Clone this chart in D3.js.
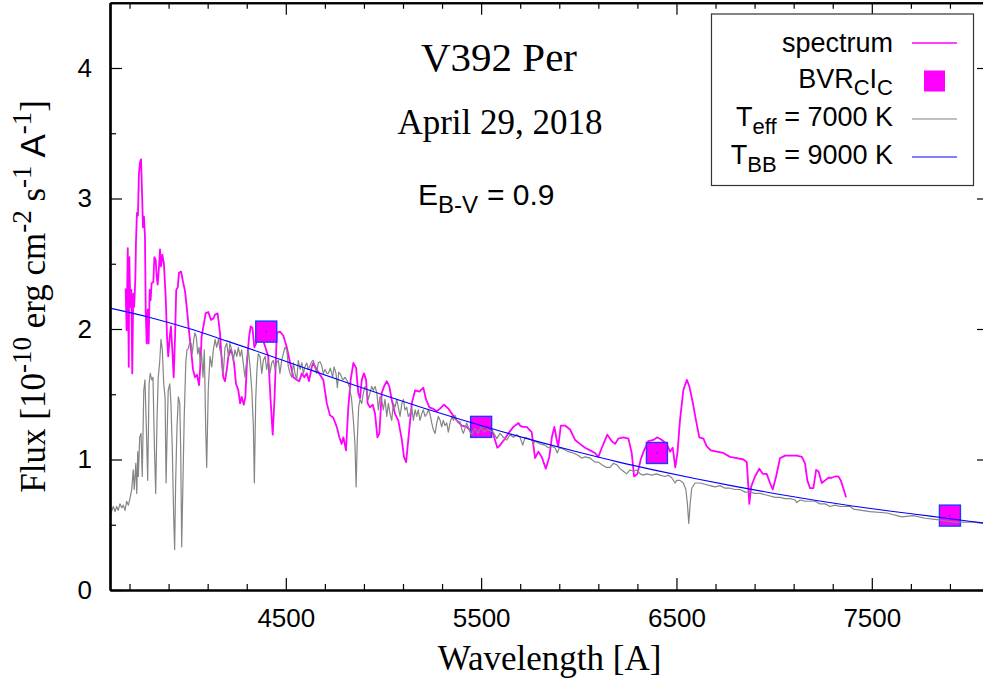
<!DOCTYPE html>
<html>
<head>
<meta charset="utf-8">
<script src="https://cdn.jsdelivr.net/npm/d3@7"></script>
<style>
  body { margin: 0; background: #fff; }
  svg { display: block; }
  .serif { font-family: 'Liberation Serif', 'Times New Roman', serif; }
  .sans { font-family: 'Liberation Sans', Arial, sans-serif; }
</style>
</head>
<body>
<svg id="chart" width="983" height="684"></svg>
<script>
// V392 Per spectrum, April 29, 2018

// observed spectrum [wavelength A, flux 1e-10]
const spectrum = [
  [3680,2.31],[3685,1.99],[3691,2.62],[3696,1.71],[3699,2.55],[3704,2.17],[3709,2.30],[3714,1.66],
  [3719,2.27],[3724,2.17],[3730,2.40],[3733,2.67],[3738,2.89],[3743,2.87],[3748,3.19],[3754,3.28],
  [3759,3.30],[3764,3.04],[3769,2.78],[3774,2.86],[3779,2.71],[3783,2.12],[3788,1.89],[3793,2.15],
  [3798,1.89],[3803,2.30],[3808,2.22],[3813,2.35],[3822,2.36],[3827,2.55],[3834,2.53],[3839,2.40],
  [3844,2.34],[3851,2.48],[3856,2.61],[3861,2.48],[3868,2.57],[3876,2.50],[3885,2.25],[3892,1.94],
  [3898,1.79],[3906,1.94],[3912,2.02],[3919,1.84],[3926,1.63],[3933,1.94],[3939,2.30],[3947,2.32],
  [3953,2.43],[3964,2.44],[3974,2.36],[3984,2.29],[3994,2.15],[4004,1.99],[4015,1.84],[4025,1.69],
  [4035,1.63],[4045,1.65],[4056,1.57],[4062,1.71],[4069,1.94],[4078,2.02],[4090,2.12],[4103,2.13],
  [4117,2.07],[4129,2.08],[4138,2.11],[4151,2.12],[4163,1.97],[4172,1.76],[4180,1.63],[4189,1.60],
  [4198,1.69],[4206,1.79],[4218,1.84],[4226,1.81],[4235,1.74],[4245,1.58],[4257,1.53],[4266,1.43],
  [4274,1.48],[4285,1.42],[4293,1.48],[4301,1.74],[4312,1.94],[4320,2.02],[4329,2.01],[4339,1.86],
  [4348,1.89],[4358,1.98],[4383,1.92],[4410,1.79],[4422,1.46],[4433,1.19],[4442,1.46],[4454,1.97],
  [4470,1.98],[4487,1.95],[4505,1.86],[4522,1.74],[4539,1.63],[4556,1.61],[4569,1.60],[4582,1.66],
  [4595,1.63],[4607,1.66],[4619,1.60],[4633,1.71],[4641,1.74],[4658,1.69],[4675,1.65],[4692,1.61],
  [4710,1.43],[4726,1.34],[4743,1.32],[4761,1.25],[4774,1.17],[4786,1.12],[4795,1.17],[4808,1.07],
  [4820,1.40],[4832,1.61],[4846,1.74],[4860,1.70],[4871,1.51],[4880,1.47],[4889,1.61],[4900,1.66],
  [4911,1.61],[4919,1.43],[4931,1.40],[4945,1.42],[4957,1.35],[4969,1.17],[4979,1.20],[4991,1.51],
  [5003,1.56],[5017,1.60],[5030,1.56],[5042,1.46],[5059,1.35],[5076,1.30],[5094,1.15],[5105,1.02],
  [5116,0.98],[5127,1.15],[5145,1.43],[5162,1.53],[5184,1.52],[5204,1.55],[5218,1.46],[5235,1.40],
  [5252,1.39],[5273,1.37],[5290,1.39],[5310,1.42],[5332,1.39],[5355,1.34],[5375,1.30],[5401,1.26],
  [5426,1.25],[5452,1.21],[5474,1.17],[5503,1.21],[5529,1.25],[5554,1.23],[5571,1.15],[5583,1.09],
  [5597,1.11],[5617,1.15],[5639,1.20],[5665,1.25],[5691,1.28],[5699,1.26],[5713,1.25],[5733,1.25],
  [5759,1.21],[5776,1.01],[5793,1.06],[5810,1.02],[5831,0.93],[5849,1.02],[5862,1.17],[5875,1.25],
  [5887,1.15],[5895,1.10],[5908,1.26],[5930,1.26],[5955,1.23],[5981,1.15],[6006,1.12],[6032,1.09],
  [6058,1.07],[6083,1.05],[6100,1.02],[6118,1.09],[6146,1.19],[6169,1.14],[6186,1.12],[6202,1.16],
  [6228,1.17],[6254,1.16],[6271,1.05],[6283,0.87],[6300,0.89],[6317,1.00],[6334,1.07],[6356,1.14],
  [6382,1.15],[6402,1.17],[6425,1.15],[6450,1.12],[6467,1.06],[6481,1.09],[6494,0.94],[6505,1.05],
  [6518,1.30],[6535,1.53],[6553,1.61],[6566,1.56],[6583,1.44],[6600,1.30],[6617,1.17],[6638,1.16],
  [6655,1.10],[6676,1.07],[6706,1.06],[6740,1.05],[6774,1.02],[6809,1.01],[6843,1.00],[6860,0.98],
  [6868,0.79],[6873,0.66],[6882,0.79],[6902,0.87],[6924,0.93],[6942,0.89],[6962,0.89],[6979,0.82],
  [6993,0.77],[7010,0.87],[7030,1.01],[7056,1.03],[7090,1.03],[7116,1.03],[7142,1.02],[7158,0.97],
  [7170,0.84],[7184,0.78],[7201,0.78],[7215,0.92],[7227,0.91],[7244,0.82],[7261,0.84],[7278,0.86],
  [7295,0.86],[7312,0.87],[7329,0.87],[7341,0.84],[7354,0.78],[7368,0.71]
];

// B V Rc Ic photometry
const photWave = [4400, 5500, 6400, 7900];
const photFlux = [1.98, 1.25, 1.05, 0.57];

// model atmosphere Teff = 7000 K
const model = [
  [3600,0.59],[3605,0.59],[3617,0.64],[3626,0.60],[3634,0.64],[3642,0.61],[3651,0.66],[3660,0.63],
  [3668,0.65],[3677,0.61],[3685,0.68],[3694,0.65],[3702,0.70],[3711,0.77],[3719,0.92],[3724,0.77],
  [3732,0.97],[3737,0.74],[3742,1.06],[3745,0.87],[3752,1.17],[3759,1.20],[3765,0.87],[3773,1.53],
  [3779,1.61],[3786,1.25],[3793,0.84],[3800,1.58],[3806,1.66],[3814,1.61],[3820,1.63],[3827,1.12],
  [3834,0.74],[3841,1.33],[3847,1.63],[3854,1.74],[3861,1.92],[3868,1.84],[3875,1.58],[3882,1.48],
  [3887,0.82],[3892,1.17],[3898,1.53],[3906,1.58],[3912,1.43],[3919,1.07],[3926,0.56],[3931,0.31],
  [3936,0.82],[3943,1.25],[3950,1.48],[3957,1.43],[3962,1.07],[3967,0.33],[3974,0.87],[3980,1.33],
  [3988,1.74],[3994,1.84],[4001,1.85],[4008,1.90],[4015,1.89],[4021,1.81],[4029,1.92],[4035,1.97],
  [4042,1.94],[4049,1.81],[4056,1.86],[4062,1.74],[4069,1.81],[4076,1.63],[4083,1.84],[4090,1.23],
  [4095,0.94],[4103,1.53],[4112,1.79],[4121,1.71],[4129,1.84],[4138,1.92],[4146,1.86],[4155,1.92],
  [4163,1.84],[4172,1.79],[4180,1.66],[4189,1.86],[4198,1.89],[4206,1.79],[4214,1.89],[4223,1.84],
  [4231,1.76],[4240,1.84],[4249,1.79],[4257,1.86],[4266,1.79],[4274,1.84],[4282,1.74],[4291,1.63],
  [4300,1.76],[4308,1.84],[4317,1.71],[4326,1.53],[4334,1.25],[4339,0.82],[4346,1.46],[4353,1.71],
  [4359,1.81],[4368,1.79],[4377,1.66],[4385,1.76],[4394,1.79],[4402,1.69],[4410,1.76],[4419,1.66],
  [4428,1.74],[4436,1.76],[4445,1.69],[4453,1.74],[4462,1.76],[4470,1.66],[4479,1.76],[4487,1.81],
  [4496,1.86],[4505,1.84],[4513,1.71],[4522,1.66],[4530,1.63],[4539,1.74],[4547,1.66],[4556,1.61],
  [4564,1.76],[4573,1.69],[4582,1.74],[4590,1.66],[4598,1.71],[4607,1.74],[4615,1.69],[4624,1.72],
  [4633,1.75],[4641,1.76],[4650,1.70],[4658,1.66],[4666,1.74],[4675,1.75],[4684,1.72],[4692,1.66],
  [4701,1.69],[4710,1.66],[4718,1.66],[4728,1.70],[4740,1.63],[4747,1.71],[4757,1.66],[4764,1.55],
  [4771,1.67],[4781,1.65],[4791,1.61],[4803,1.63],[4815,1.60],[4825,1.56],[4837,1.46],[4846,1.30],
  [4854,1.12],[4860,0.79],[4866,1.15],[4873,1.40],[4880,1.46],[4889,1.43],[4897,1.51],[4906,1.56],
  [4914,1.53],[4922,1.46],[4931,1.51],[4940,1.56],[4948,1.53],[4957,1.56],[4966,1.51],[4974,1.38],
  [4982,1.48],[4991,1.46],[4999,1.38],[5008,1.46],[5017,1.33],[5025,1.43],[5034,1.35],[5042,1.30],
  [5051,1.43],[5059,1.40],[5068,1.46],[5076,1.40],[5085,1.33],[5094,1.43],[5102,1.46],[5110,1.38],
  [5119,1.40],[5127,1.33],[5136,1.35],[5145,1.40],[5153,1.30],[5162,1.38],[5170,1.33],[5178,1.38],
  [5187,1.30],[5196,1.35],[5204,1.38],[5213,1.33],[5222,1.35],[5230,1.38],[5238,1.35],[5247,1.28],
  [5255,1.23],[5264,1.20],[5273,1.28],[5281,1.33],[5290,1.30],[5298,1.25],[5306,1.30],[5315,1.26],
  [5324,1.28],[5332,1.21],[5341,1.28],[5350,1.33],[5358,1.30],[5366,1.34],[5375,1.30],[5383,1.28],
  [5392,1.29],[5401,1.23],[5409,1.20],[5418,1.24],[5426,1.28],[5434,1.25],[5443,1.21],[5452,1.19],
  [5469,1.24],[5484,1.20],[5499,1.25],[5515,1.21],[5530,1.23],[5546,1.22],[5562,1.21],[5580,1.16],
  [5597,1.20],[5614,1.17],[5631,1.15],[5648,1.19],[5665,1.17],[5682,1.19],[5699,1.17],[5713,1.11],
  [5725,1.17],[5742,1.16],[5759,1.15],[5767,1.12],[5776,1.14],[5802,1.12],[5827,1.11],[5844,1.09],
  [5861,1.10],[5878,1.09],[5890,1.05],[5900,1.09],[5921,1.08],[5947,1.06],[5972,1.05],[5998,1.03],
  [6015,1.01],[6032,1.02],[6058,1.01],[6083,0.98],[6100,0.98],[6118,0.96],[6140,0.94],[6160,0.94],
  [6177,0.97],[6194,0.96],[6211,0.93],[6228,0.91],[6245,0.89],[6262,0.92],[6279,0.91],[6297,0.92],
  [6314,0.89],[6331,0.88],[6348,0.89],[6373,0.88],[6399,0.89],[6416,0.88],[6442,0.87],[6459,0.88],
  [6476,0.86],[6493,0.82],[6501,0.84],[6518,0.84],[6535,0.82],[6548,0.77],[6556,0.66],[6563,0.51],
  [6570,0.66],[6578,0.78],[6595,0.82],[6621,0.82],[6646,0.81],[6672,0.80],[6698,0.79],[6723,0.80],
  [6749,0.78],[6774,0.78],[6800,0.77],[6826,0.77],[6851,0.75],[6877,0.75],[6902,0.74],[6928,0.74],
  [6954,0.73],[6979,0.72],[7005,0.71],[7030,0.71],[7056,0.70],[7082,0.70],[7107,0.69],[7116,0.67],
  [7133,0.69],[7158,0.68],[7184,0.68],[7210,0.68],[7235,0.66],[7261,0.66],[7286,0.64],[7312,0.65],
  [7338,0.64],[7363,0.64],[7389,0.64],[7406,0.62],[7491,0.60],[7577,0.59],[7653,0.56],[7713,0.57],
  [7773,0.55],[7833,0.54],[7918,0.52],[7969,0.52],[8020,0.52],[8070,0.51],[8100,0.50]
];

// black body T = 9000 K
const bbWave = [3600,3800,4000,4200,4400,4600,4800,5000,5200,5400,5600,5800,
                6000,6200,6400,6600,6800,7000,7200,7400,7600,7800,8000,8100];
const bbFlux = [2.16,2.09,2.005,1.907,1.805,1.70,1.596,1.495,1.397,1.304,1.216,1.133,
                1.055,0.982,0.915,0.852,0.794,0.740,0.690,0.644,0.603,0.566,0.527,0.509];

// ticks
const xTickLabels = ['4500', '5500', '6500', '7500'];
const xMinorTicks = d3.range(3700, 8101, 200);
const yTickLabels = ['0', '1', '2', '3', '4'];
const yMinorTicks = [0.5, 1.5, 2.5, 3.5];

const svg = d3.select('#chart');
const plotLeft = 110, plotRight = 989, plotTop = 2.75, plotBottom = 590;

const x = d3.scaleLinear().domain([3600, 8100]).range([plotLeft, plotRight]);
const y = d3.scaleLinear().domain([0, 4.5]).range([plotBottom, plotTop]);

svg.append('defs').append('clipPath').attr('id', 'clip')
  .append('rect')
  .attr('x', plotLeft).attr('y', plotTop)
  .attr('width', plotRight - plotLeft).attr('height', plotBottom - plotTop);

const plot = svg.append('g').attr('clip-path', 'url(#clip)');
const line = d3.line().x(d => x(d[0])).y(d => y(d[1]));

// spectrum
plot.append('path')
  .datum(spectrum)
  .attr('d', line)
  .attr('fill', 'none')
  .attr('stroke', '#ff00ff')
  .attr('stroke-width', 1.8)
  .attr('stroke-linejoin', 'round');

// photometry squares
const phot = photWave.map((w, i) => [w, photFlux[i]]);
const sq = 21;
plot.selectAll('rect.phot')
  .data(phot)
  .enter().append('rect')
  .attr('class', 'phot')
  .attr('x', d => x(d[0]) - sq / 2)
  .attr('y', d => y(d[1]) - sq / 2)
  .attr('width', sq).attr('height', sq)
  .attr('fill', '#ff00ff')
  .attr('stroke', '#1a3cff')
  .attr('stroke-width', 1.4);
plot.selectAll('circle.phot')
  .data(phot)
  .enter().append('circle')
  .attr('cx', d => x(d[0]))
  .attr('cy', d => y(d[1]))
  .attr('r', 0.8)
  .attr('fill', '#1a3cff');

// model
plot.append('path')
  .datum(model)
  .attr('d', line)
  .attr('fill', 'none')
  .attr('stroke', '#858585')
  .attr('stroke-width', 1.2)
  .attr('stroke-linejoin', 'round');

// black body
plot.append('path')
  .datum(bbWave.map((w, i) => [w, bbFlux[i]]))
  .attr('d', d3.line().x(d => x(d[0])).y(d => y(d[1])).curve(d3.curveMonotoneX))
  .attr('fill', 'none')
  .attr('stroke', '#0000ff')
  .attr('stroke-width', 1.1);

// axes
const xMajor = xTickLabels.map(Number);
const yMajor = yTickLabels.map(Number);
const xMinor = xMinorTicks.filter(v => !xMajor.includes(v));

function styleAxis(g) {
  g.attr('font-family', 'Liberation Sans, Arial, sans-serif').attr('font-size', 26);
  g.select('.domain').attr('stroke', '#000').attr('stroke-width', 2.2);
  g.selectAll('.tick line').attr('stroke', '#000').attr('stroke-width', 1.2);
  g.selectAll('.tick text').attr('fill', '#000');
}

svg.append('g')
  .attr('transform', `translate(0, ${plotBottom})`)
  .call(d3.axisBottom(x).tickValues(xMajor).tickSize(-12).tickSizeOuter(0).tickPadding(19).tickFormat((d, i) => xTickLabels[i]))
  .call(styleAxis);
svg.append('g')
  .attr('transform', `translate(0, ${plotBottom})`)
  .call(d3.axisBottom(x).tickValues(xMinor).tickSize(-6).tickSizeOuter(0).tickFormat(''))
  .call(styleAxis);
svg.append('g')
  .attr('transform', `translate(0, ${plotTop})`)
  .call(d3.axisTop(x).tickValues(xMajor).tickSize(-12).tickSizeOuter(0).tickFormat(''))
  .call(styleAxis);
svg.append('g')
  .attr('transform', `translate(0, ${plotTop})`)
  .call(d3.axisTop(x).tickValues(xMinor).tickSize(-6).tickSizeOuter(0).tickFormat(''))
  .call(styleAxis);

svg.append('g')
  .attr('transform', `translate(${plotLeft}, 0)`)
  .call(d3.axisLeft(y).tickValues(yMajor).tickSize(-12).tickSizeOuter(0).tickPadding(18).tickFormat((d, i) => yTickLabels[i]))
  .call(styleAxis);
svg.append('g')
  .attr('transform', `translate(${plotLeft}, 0)`)
  .call(d3.axisLeft(y).tickValues(yMinorTicks).tickSize(-6).tickSizeOuter(0).tickFormat(''))
  .call(styleAxis);
svg.append('g')
  .attr('transform', `translate(${plotRight}, 0)`)
  .call(d3.axisRight(y).tickValues(yMajor).tickSize(-12).tickSizeOuter(0).tickFormat(''))
  .call(styleAxis);
svg.append('g')
  .attr('transform', `translate(${plotRight}, 0)`)
  .call(d3.axisRight(y).tickValues(yMinorTicks).tickSize(-6).tickSizeOuter(0).tickFormat(''))
  .call(styleAxis);

// axis labels
svg.append('text')
  .attr('class', 'serif')
  .attr('x', (plotLeft + plotRight) / 2)
  .attr('y', 670)
  .attr('text-anchor', 'middle')
  .attr('font-size', 35)
  .text('Wavelength [A]');

const ylab = svg.append('text')
  .attr('class', 'serif')
  .attr('transform', `translate(45, ${(plotTop + plotBottom) / 2}) rotate(-90)`)
  .attr('text-anchor', 'middle')
  .attr('font-size', 35);
ylab.append('tspan').text('Flux [10');
ylab.append('tspan').attr('font-size', 27).attr('dy', -14).text('-10');
ylab.append('tspan').attr('dy', 14).text(' erg cm');
ylab.append('tspan').attr('font-size', 27).attr('dy', -14).text('-2');
ylab.append('tspan').attr('dy', 14).text(' s');
ylab.append('tspan').attr('font-size', 27).attr('dy', -14).text('-1');
ylab.append('tspan').attr('dy', 14).attr('class', 'sans').text(' A');
ylab.append('tspan').attr('font-size', 27).attr('dy', -14).text('-1');
ylab.append('tspan').attr('dy', 14).text(']');

// titles
svg.append('text')
  .attr('class', 'serif')
  .attr('x', 499).attr('y', 71)
  .attr('text-anchor', 'middle')
  .attr('font-size', 41)
  .text('V392 Per');
svg.append('text')
  .attr('class', 'serif')
  .attr('x', 500).attr('y', 134)
  .attr('text-anchor', 'middle')
  .attr('font-size', 35)
  .text('April 29, 2018');
const ebv = svg.append('text')
  .attr('class', 'sans')
  .attr('x', 418).attr('y', 205)
  .attr('font-size', 30);
ebv.append('tspan').text('E');
ebv.append('tspan').attr('font-size', 24).attr('dy', 8).text('B-V');
ebv.append('tspan').attr('dy', -8).attr('x', 487).text('= 0.9');

// legend
const legend = svg.append('g').attr('class', 'sans').attr('font-size', 27);
legend.append('rect')
  .attr('x', 711.5).attr('y', 14)
  .attr('width', 262).attr('height', 171.5)
  .attr('fill', '#fff')
  .attr('stroke', '#333')
  .attr('stroke-width', 1.2);

const legendRows = [43, 81, 119, 157];
const tx = 893, lx1 = 912, lx2 = 957;

legend.append('text').attr('x', tx).attr('y', legendRows[0] + 9).attr('text-anchor', 'end').text('spectrum');
legend.append('line').attr('x1', lx1).attr('x2', lx2).attr('y1', legendRows[0]).attr('y2', legendRows[0])
  .attr('stroke', '#ff00ff').attr('stroke-width', 1.3);

const l2 = legend.append('text').attr('x', tx).attr('y', legendRows[1] + 7).attr('text-anchor', 'end');
l2.append('tspan').text('BVR');
l2.append('tspan').attr('font-size', 22).attr('dy', 7).text('C');
l2.append('tspan').attr('dy', -7).text('I');
l2.append('tspan').attr('font-size', 22).attr('dy', 7).text('C');
legend.append('rect').attr('x', 934.5 - 10.5).attr('y', legendRows[1] - 10.5)
  .attr('width', 21).attr('height', 21).attr('fill', '#ff00ff');

const l3 = legend.append('text').attr('x', tx).attr('y', legendRows[2] + 7).attr('text-anchor', 'end');
l3.append('tspan').text('T');
l3.append('tspan').attr('font-size', 22).attr('dy', 8).text('eff');
l3.append('tspan').attr('dy', -8).text(' = 7000 K');
legend.append('line').attr('x1', lx1).attr('x2', lx2).attr('y1', legendRows[2]).attr('y2', legendRows[2])
  .attr('stroke', '#808080').attr('stroke-width', 1.2);

const l4 = legend.append('text').attr('x', tx).attr('y', legendRows[3] + 7).attr('text-anchor', 'end');
l4.append('tspan').text('T');
l4.append('tspan').attr('font-size', 22).attr('dy', 8).text('BB');
l4.append('tspan').attr('dy', -8).text(' = 9000 K');
legend.append('line').attr('x1', lx1).attr('x2', lx2).attr('y1', legendRows[3]).attr('y2', legendRows[3])
  .attr('stroke', '#0000ff').attr('stroke-width', 1.2);
</script>
</body>
</html>
